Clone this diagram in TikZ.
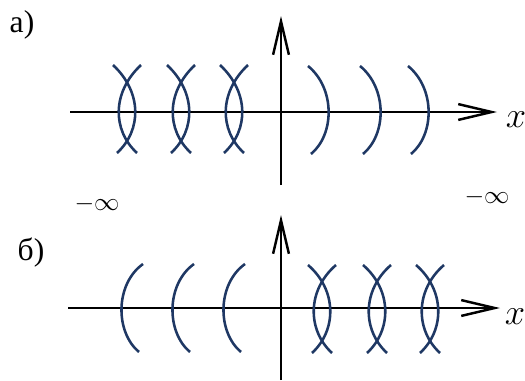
\documentclass[tikz,border=0pt]{standalone}
\usepackage{fontspec}
\setmainfont{Liberation Serif}
\usepackage{xcolor}
\usepackage{tikz}
\usetikzlibrary{arrows.meta}
\definecolor{lensblue}{RGB}{31,56,100}

\begin{document}
\begin{tikzpicture}[x=0.02cm, y=-0.02cm,
  axis/.style={line width=1.6pt, -{Straight Barb[length=19pt, width=9pt, line width=1.4pt]}},
  lens/.style={line width=1.45pt, draw=lensblue},
  lbl/.style={font=\fontsize{18}{21}\selectfont, inner sep=0pt},
  xlbl/.style={font=\fontsize{20}{23}\selectfont, inner sep=0pt},
  inf/.style={font=\fontsize{15}{18}\selectfont, inner sep=0pt}]
\useasboundingbox (0,0) rectangle (525,380);
% panel a: axes
\coordinate (ax0) at (70,112);
\coordinate (ax1) at (497,112);
\coordinate (ay0) at (281,185);
\coordinate (ay1) at (281,16);
\draw[axis] (ax0) -- (ax1);
\draw[axis] (ay0) -- (ay1);
\node[lbl] (la) at (22,25) {а)};
\node[xlbl] (xa) at (516,120) {$x$};
% panel a: crossed lenses on the left
\draw[lens] (141,65) .. controls (112,92) and (112,130) .. (137,153);
\draw[lens] (113,65) .. controls (142,92) and (142,130) .. (117,153);
\draw[lens] (195,65) .. controls (166,92) and (166,130) .. (191,153);
\draw[lens] (167,65) .. controls (196,92) and (196,130) .. (171,153);
\draw[lens] (248,65) .. controls (219,92) and (219,130) .. (244,153);
\draw[lens] (220,65) .. controls (249,92) and (249,130) .. (224,153);
% panel a: single arcs on the right
\draw[lens] (308,66) .. controls (335,88) and (335,134) .. (311,154);
\draw[lens] (360,66) .. controls (387,88) and (387,134) .. (363,154);
\draw[lens] (408,66) .. controls (435,88) and (435,134) .. (411,154);
% minus infinity marks
\node[inf] (ml) at (97,204) {$-\infty$};
\node[inf] (mr) at (487,197) {$-\infty$};
% panel b: axes
\coordinate (bx0) at (68,308);
\coordinate (bx1) at (500,308);
\coordinate (by0) at (281,380);
\coordinate (by1) at (281,215);
\draw[axis] (bx0) -- (bx1);
\draw[axis] (by0) -- (by1);
\node[lbl] (lb) at (31,253) {б)};
\node[xlbl] (xb) at (515,317) {$x$};
% panel b: single arcs on the left
\draw[lens] (143,264) .. controls (115,284) and (115,332) .. (139,352);
\draw[lens] (194,264) .. controls (166,284) and (166,332) .. (190,352);
\draw[lens] (245,264) .. controls (217,284) and (217,332) .. (241,352);
% panel b: crossed lenses on the right
\draw[lens] (336,265) .. controls (307,290) and (307,330) .. (332,353);
\draw[lens] (308,265) .. controls (337,290) and (337,330) .. (312,353);
\draw[lens] (391,265) .. controls (362,290) and (362,330) .. (387,353);
\draw[lens] (363,265) .. controls (392,290) and (392,330) .. (367,353);
\draw[lens] (444,265) .. controls (415,290) and (415,330) .. (440,353);
\draw[lens] (416,265) .. controls (445,290) and (445,330) .. (420,353);
\end{tikzpicture}
\end{document}
